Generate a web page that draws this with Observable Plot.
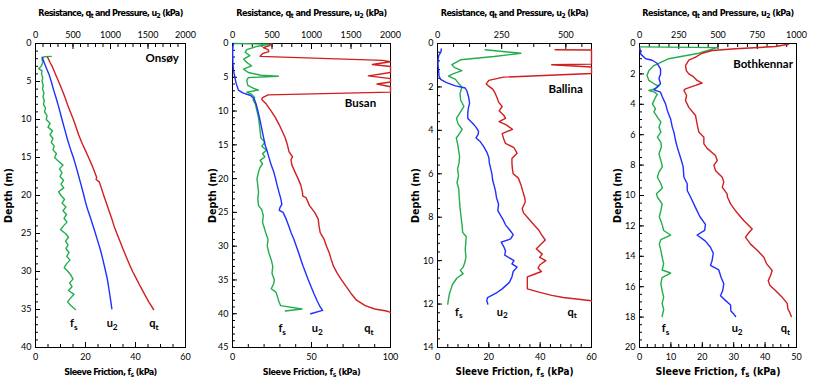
<!DOCTYPE html>
<html><head><meta charset="utf-8">
<script src="https://cdn.jsdelivr.net/npm/d3@7"></script>
<script src="https://cdn.jsdelivr.net/npm/@observablehq/plot@0.6"></script>
<style>
body{margin:0;background:#fff;}
#chart{display:flex;width:818px;height:385px;overflow:hidden;}
#chart svg{flex:none;}
</style></head><body><div id="chart"></div>
<script>
// ---------- DATA: [depth (m), value (kPa)] ----------
const onsoyFs = [[1.7,6.3],[1.75,3.4],[2.0,2.6],[2.5,2.9],[3.0,2.3],[3.3,1.3],[3.6,2.6],[4.0,2.4],[4.5,2.9],[5.0,2.6],[5.5,3.1],[6.0,2.8],[6.5,3.4],[7.0,3.0],[7.5,3.5],[8.0,3.2],[8.5,4.0],[9.0,3.6],[9.5,4.6],[10.0,4.3],[10.5,5.8],[11.0,5.0],[11.5,6.8],[12.0,5.8],[12.5,7.0],[13.0,6.3],[13.5,7.5],[14.0,7.0],[14.5,8.4],[15.0,7.6],[15.5,9.2],[16.0,11.0],[16.5,9.6],[17.0,10.6],[17.5,9.8],[18.0,11.2],[18.5,10.2],[19.0,11.3],[19.5,9.2],[20.0,10.2],[20.5,11.6],[21.0,10.6],[21.5,12.2],[22.0,11.0],[22.5,12.4],[23.0,11.4],[23.5,12.6],[24.0,11.2],[24.5,10.0],[25.0,12.0],[25.5,13.2],[26.0,12.0],[26.5,13.0],[27.0,12.2],[27.5,13.4],[28.0,12.5],[28.5,13.8],[29.0,12.4],[29.5,11.5],[30.0,13.0],[30.5,14.2],[31.0,15.0],[31.5,13.6],[32.0,14.6],[32.5,13.2],[33.0,15.4],[33.5,14.0],[34.0,12.8],[34.5,14.2],[35.0,16.0]];
const onsoyU2 = [[1.8,89],[3,135],[4,178],[5,210],[6.2,244],[7,270],[8.4,311],[10.1,356],[11.5,395],[12.8,431],[14,470],[15,505],[16,535],[17.2,569],[18.5,605],[19.8,640],[21,670],[21.9,698],[23,735],[24.6,787],[26,830],[27.2,867],[28.5,900],[29.9,933],[31,958],[32.5,982],[34,1005],[34.9,1018]];
const onsoyQt = [[1.8,160],[2.5,195],[3,222],[4,265],[5,308],[6,350],[7,390],[8,425],[9,465],[10,505],[11,540],[12,575],[13,615],[14,662],[15,708],[16,752],[17,792],[17.6,815],[17.9,808],[18.2,850],[19,877],[20,910],[21,945],[22,980],[23,1015],[24,1047],[25,1085],[26,1125],[27,1165],[28,1207],[29,1250],[30,1295],[31,1348],[32,1400],[33,1455],[34,1510],[35,1575]];

const busanFs = [[0,1],[0.1,24],[0.4,16],[0.9,9],[1.3,8],[1.8,11],[2.3,7],[2.8,9],[3.3,12],[3.8,7],[4.3,10],[4.7,18],[4.85,29],[5.05,10],[5.5,9],[6.2,9.7],[6.7,14],[6.9,16.5],[7.2,9],[7.5,12],[8.0,14],[8.3,13],[9.0,14.5],[10,15.5],[11,16.5],[12,17],[13,17.5],[14,18],[14.6,20.5],[15.2,18.6],[15.8,21.5],[16.3,19],[16.8,20.5],[17.3,17.5],[17.8,19],[18.4,17.3],[19,16.5],[20,15.5],[21,16],[22,16.5],[23,16],[24,16.5],[24.6,18.5],[25.5,19.5],[26.5,19],[27.2,20],[28,21],[29,22.5],[30,22],[31,23],[32,24.5],[33,25.5],[34,25],[35,26.5],[35.6,26],[36.3,24.5],[36.8,27.5],[37.5,28.5],[38.3,29.5],[38.8,30.5],[39.3,44],[39.6,33.4]];
const busanU2 = [[0,13],[0.5,5],[1,2],[2,3],[3,6],[4,13],[5,30],[5.6,40],[6.2,55],[6.9,75],[7.3,130],[7.7,230],[8.2,275],[9,300],[10,322],[11,342],[12,360],[13,377],[14,395],[15,412],[16,440],[17,465],[18,490],[19,522],[20,545],[21,565],[22,588],[23,612],[23.8,625],[24.3,600],[24.7,592],[25,640],[26,680],[27,712],[28,742],[29,778],[30,808],[31,838],[32,866],[33,895],[34,928],[35,960],[36,995],[37,1030],[38,1068],[39,1110],[39.5,1140],[40,990]];
const busanQt = [[0,500],[0.3,470],[0.6,390],[0.9,450],[1.2,460],[1.5,380],[1.9,350],[2.5,1900],[2.7,2000],[3.1,1770],[3.4,2000],[4.3,2000],[4.8,1720],[5.2,2000],[5.7,2000],[6.0,1830],[6.4,2000],[7.2,2000],[7.6,450],[8.0,380],[8.3,370],[9,430],[10,490],[11,545],[12,590],[13,630],[14,668],[15,695],[16,715],[16.8,760],[17.2,740],[18,752],[19,790],[20,830],[21,865],[22,885],[22.6,890],[22.8,930],[24,975],[25,1040],[26,1085],[27,1095],[28,1110],[29,1160],[30,1190],[31,1225],[32,1250],[33,1280],[34,1325],[35,1380],[36,1440],[37,1500],[38,1570],[38.8,1680],[39.3,1800],[39.6,1950],[39.8,2000]];

const ballinaFs = [[0.29,18.6],[0.45,32.5],[0.6,22],[0.75,9],[0.97,5.6],[1.1,6.5],[1.25,9.5],[1.4,6],[1.5,4.3],[1.65,7],[1.85,8.3],[2.0,9.5],[2.3,8.8],[2.6,9.0],[2.9,10.3],[3.2,8.7],[3.45,7.4],[3.7,8.0],[3.95,9.6],[4.2,8.3],[4.35,7.3],[4.6,7.8],[4.9,8.2],[5.2,8.6],[5.5,8.4],[5.8,7.8],[6.1,8.2],[6.4,7.6],[6.7,8.3],[7.0,8.4],[7.3,8.6],[7.6,8.8],[8.0,9.2],[8.4,9.6],[8.7,9.8],[8.9,11.2],[9.2,11.0],[9.5,10.8],[9.85,11.1],[10.1,10.6],[10.3,10.0],[10.45,8.9],[10.6,10.0],[10.8,7.6],[11.1,5.8],[11.3,5.3],[11.5,4.7],[11.75,4.3],[12.0,4.0]];
const ballinaU2 = [[0.25,15],[0.4,13],[0.55,5],[0.75,2],[1.0,2],[1.2,4],[1.5,6],[1.65,12],[1.8,35],[1.95,70],[2.05,108],[2.2,115],[2.5,122],[2.75,125],[3.0,120],[3.2,118],[3.45,118],[3.65,135],[3.85,150],[4.05,160],[4.2,158],[4.35,150],[4.5,165],[4.75,180],[5.0,192],[5.25,200],[5.5,202],[5.8,208],[6.0,212],[6.3,215],[6.6,222],[6.8,226],[7.1,230],[7.4,238],[7.7,235],[7.9,245],[8.1,255],[8.35,265],[8.6,282],[8.8,295],[9.0,285],[9.15,248],[9.35,258],[9.55,265],[9.75,262],[10.0,298],[10.15,290],[10.3,310],[10.5,295],[10.75,290],[11.0,280],[11.3,252],[11.5,228],[11.7,195],[11.85,192],[12.0,196]];
const ballinaQt = [[0.29,458],[0.3,600],[0.95,600],[0.98,445],[1.08,600],[1.38,600],[1.55,257],[1.7,200],[1.86,190],[1.95,198],[2.1,215],[2.3,225],[2.5,232],[2.7,238],[2.9,252],[3.1,240],[3.3,258],[3.45,265],[3.6,240],[3.75,268],[3.95,292],[4.15,252],[4.4,258],[4.6,265],[4.8,298],[5.05,310],[5.3,290],[5.5,290],[5.8,292],[6.0,295],[6.2,315],[6.5,325],[6.8,332],[7.1,340],[7.3,342],[7.6,330],[7.8,335],[8.0,350],[8.3,372],[8.6,395],[8.8,405],[9.05,420],[9.3,398],[9.45,385],[9.7,408],[9.85,398],[10.0,422],[10.2,398],[10.35,392],[10.5,405],[10.65,372],[10.75,350],[11.3,350],[11.45,395],[11.6,445],[11.7,490],[11.85,600]];

const bothFs = [[0.22,0.3],[0.27,24.7],[0.64,18.9],[1.0,9.3],[1.45,4.6],[1.78,3.0],[2.1,2.4],[2.43,3.0],[2.65,4.6],[2.8,6.2],[2.98,5.1],[3.09,3.0],[3.2,4.8],[3.35,5.7],[3.5,5.2],[3.97,4.1],[4.3,5.1],[4.5,4.6],[4.84,5.7],[5.17,6.8],[5.5,6.2],[5.83,6.8],[6.16,5.7],[6.5,6.8],[6.8,7.0],[7.26,6.2],[7.7,6.8],[8.1,7.3],[8.46,6.2],[8.8,5.7],[9.23,6.8],[9.5,7.3],[9.89,5.4],[10.1,5.7],[10.55,7.2],[11.0,6.8],[11.4,6.3],[11.9,7.2],[12.3,7.7],[12.6,9.9],[12.9,6.8],[13.2,6.3],[13.6,6.8],[14.06,7.2],[14.5,7.7],[14.9,7.2],[15.1,9.9],[15.4,7.2],[15.8,6.8],[16.25,7.2],[16.7,7.7],[17.1,7.2],[17.5,7.7],[17.96,7.2]];
const bothU2 = [[0.3,2],[0.7,8],[1.0,40],[1.1,81],[1.3,112],[1.67,134],[2.0,134],[2.3,124],[2.65,134],[3.05,92],[3.2,134],[3.5,145],[3.97,166],[4.4,177],[4.96,198],[5.5,209],[5.83,219],[6.4,230],[6.8,240],[7.5,261],[8.1,278],[8.8,283],[9.23,304],[9.67,304],[10.1,325],[10.8,357],[11.4,385],[11.9,420],[12.3,415],[12.6,367],[13.0,420],[13.4,452],[13.8,470],[14.3,462],[14.6,452],[14.9,505],[15.4,520],[15.8,537],[16.25,530],[16.6,516],[16.9,547],[17.2,580],[17.6,582],[17.8,601],[17.96,612]];
const bothQt = [[0.05,949],[0.2,866],[0.35,611],[0.46,463],[0.64,399],[0.9,357],[1.1,314],[1.45,293],[1.78,298],[2.0,314],[2.2,345],[2.43,367],[2.6,399],[2.76,357],[2.98,293],[3.09,283],[3.42,300],[3.75,293],[4.2,314],[4.74,357],[5.3,367],[5.83,378],[6.16,410],[6.6,410],[6.9,431],[7.37,484],[7.7,495],[8.0,474],[8.36,484],[8.8,527],[9.12,537],[9.45,527],[9.89,558],[10.1,560],[10.55,580],[11.0,611],[11.64,664],[12.2,718],[12.4,700],[12.74,675],[13.2,707],[13.6,750],[14.06,792],[14.5,810],[14.93,845],[15.26,835],[15.6,820],[15.9,830],[16.25,866],[16.7,909],[17.1,941],[17.45,945],[17.67,956],[17.96,967]];

// ---------- TICKS ----------
const onsoyDepthTicks = [0,5,10,15,20,25,30,35,40];
const onsoyTopTicks = [0,500,1000,1500,2000];
const onsoyFsTicks = [0,20,40,60];
const busanDepthTicks = [0,5,10,15,20,25,30,35,40,45];
const busanTopTicks = [0,500,1000,1500,2000];
const busanFsTicks = [0,50,100];
const ballinaDepthTicks = [0,2,4,6,8,10,12,14];
const ballinaTopTicks = [0,250,500];
const ballinaFsTicks = [0,20,40,60];
const bothDepthTicks = [0,2,4,6,8,10,12,14,16,18,20];
const bothTopTicks = [0,250,500,750,1000];
const bothFsTicks = [0,10,20,30,40,50];

const siteNames = ["Onsøy","Busan","Ballina","Bothkennar"];
const topTitle = "Resistance, q_t and Pressure, u_2 (kPa)";
const bottomTitle = "Sleeve Friction, f_s (kPa)";
const depthTitle = "Depth (m)";
const seriesLabels = ["f_s","u_2","q_t"];

const RED = "#d01f1f", BLUE = "#1f2fff", GREEN = "#22ae4c";
const TITLE_FONT = "'Liberation Sans Narrow', 'DejaVu Sans Condensed', Lato, sans-serif";

const panels = [
  {site: siteNames[0], fs: onsoyFs, u2: onsoyU2, qt: onsoyQt, width: 205, ml: 35, mr: 20,
   depthMax: 40, topMax: 2000, fsMax: 60, yTicks: onsoyDepthTicks, yMinor: 1,
   topTicks: onsoyTopTicks, topMinor: 100, fsTicks: onsoyFsTicks, fsMinor: 5,
   siteAt: [1689, 1.9], labAt: [[511, 36.9],[1022, 36.9],[1578, 36.9]],
   yOff: 31, topLen: 145, botLen: 93},
  {site: siteNames[1], fs: busanFs, u2: busanU2, qt: busanQt, width: 205, ml: 27, mr: 20,
   depthMax: 45, topMax: 2000, fsMax: 100, yTicks: busanDepthTicks, yMinor: 1,
   topTicks: busanTopTicks, topMinor: 125, fsTicks: busanFsTicks, fsMinor: 10,
   siteAt: [1620, 8.9], labAt: [[629, 42.2],[1072, 42.2],[1726, 42.2]],
   yOff: 24, topLen: 151, botLen: 98},
  {site: siteNames[2], fs: ballinaFs, u2: ballinaU2, qt: ballinaQt, width: 205, ml: 27, mr: 24,
   depthMax: 14, topMax: 600, fsMax: 60, yTicks: ballinaDepthTicks, yMinor: 0.4,
   topTicks: ballinaTopTicks, topMinor: 62.5, fsTicks: ballinaFsTicks, fsMinor: 4,
   siteAt: [499, 2.09], labAt: [[83, 12.38],[252, 12.38],[525, 12.38]],
   yOff: 26, topLen: 148, botLen: 118},
  {site: siteNames[3], fs: bothFs, u2: bothU2, qt: bothQt, width: 203, ml: 24, mr: 22,
   depthMax: 20, topMax: 1000, fsMax: 50, yTicks: bothDepthTicks, yMinor: 0.5,
   topTicks: bothTopTicks, topMinor: 62.5, fsTicks: bothFsTicks, fsMinor: 2.5,
   siteAt: [787, 1.34], labAt: [[166, 18.77],[622, 18.77],[930, 18.77]],
   yOff: 26, topLen: 152, botLen: 125}
];

const SVGNS = "http://www.w3.org/2000/svg";
function subscriptify(svg) {
  for (const el of Array.from(svg.querySelectorAll("text, tspan"))) {
    for (const node of Array.from(el.childNodes)) {
      if (node.nodeType === 3 && node.nodeValue.includes("_")) {
        const parts = node.nodeValue.split(/_(\w)/);
        const frag = document.createDocumentFragment();
        let shifted = false;
        parts.forEach((part, i) => {
          if (!part) return;
          const t = document.createElementNS(SVGNS, "tspan");
          t.textContent = part;
          if (i % 2 === 1) { t.setAttribute("dy", "2.5"); t.setAttribute("font-size", "75%"); shifted = true; }
          else if (shifted) { t.setAttribute("dy", "-2.5"); shifted = false; }
          frag.appendChild(t);
        });
        el.replaceChild(frag, node);
      }
    }
  }
}

// fit a title to a target width by font size (within limits), then letter spacing
function fitText(el, target) {
  let size = 10.5;
  el.setAttribute("font-size", size);
  let len = el.getComputedTextLength();
  if (!len) return;
  size = Math.max(9, Math.min(11.5, size * target / len));
  el.setAttribute("font-size", size);
  len = el.getComputedTextLength();
  const n = el.textContent.length;
  const ls = (target - len) / Math.max(1, n - 1);
  el.setAttribute("letter-spacing", ls.toFixed(3));
}

function range(a, b, s) { const out = []; for (let v = a; v <= b + 1e-9; v += s) out.push(+v.toFixed(6)); return out; }

function makePanel(p) {
  const k = p.topMax / p.fsMax;
  const fsData = p.fs.map(([d, v]) => ({depth: d, x: v * k}));
  const u2Data = p.u2.map(([d, v]) => ({depth: d, x: v}));
  const qtData = p.qt.map(([d, v]) => ({depth: d, x: v}));
  const labels = seriesLabels.map((t, i) => ({t, x: p.labAt[i][0], depth: p.labAt[i][1]}));
  const font = "Lato, 'Open Sans', sans-serif";
  const svg = Plot.plot({
    width: p.width, height: 385,
    marginTop: 43, marginBottom: 38, marginLeft: p.ml, marginRight: p.mr,
    style: {fontFamily: font, fontSize: "9px", color: "#000", background: "#fff", overflow: "visible"},
    x: {domain: [0, p.topMax]},
    y: {domain: [0, p.depthMax], reverse: true},
    marks: [
      Plot.frame({stroke: "#000", strokeWidth: 1}),
      // minor ticks
      Plot.axisY({ticks: range(0, p.depthMax, p.yMinor), tickSize: -3, tickFormat: () => "", label: null}),
      Plot.axisX({anchor: "top", ticks: range(0, p.topMax, p.topMinor), tickSize: -3, tickFormat: () => "", label: null}),
      Plot.axisX({anchor: "bottom", ticks: range(0, p.fsMax, p.fsMinor).map(v => v * k), tickSize: -3, tickFormat: () => "", label: null}),
      // major ticks + labels
      Plot.axisY({ticks: p.yTicks, tickFormat: d => String(d), tickSize: -5, tickPadding: 9, label: depthTitle, labelAnchor: "center", labelOffset: p.yOff, labelArrow: "none"}),
      Plot.axisX({anchor: "top", ticks: p.topTicks, tickFormat: d => String(d), tickSize: -5, tickPadding: 11, label: topTitle, labelAnchor: "center", labelOffset: 34, labelArrow: "none"}),
      Plot.axisX({anchor: "bottom", ticks: p.fsTicks.map(v => v * k), tickFormat: d => String(+(d / k).toFixed(4)), tickSize: -5, tickPadding: 11, label: bottomTitle, labelAnchor: "center", labelOffset: 27, labelArrow: "none"}),
      Plot.line(fsData, {x: "x", y: "depth", stroke: GREEN, strokeWidth: 1.4}),
      Plot.line(u2Data, {x: "x", y: "depth", stroke: BLUE, strokeWidth: 1.4}),
      Plot.line(qtData, {x: "x", y: "depth", stroke: RED, strokeWidth: 1.4}),
      Plot.text(labels, {x: "x", y: "depth", text: "t", fontSize: 11, fontWeight: "bold", fill: "#000", textAnchor: "middle"}),
      Plot.text([{t: p.site, x: p.siteAt[0], depth: p.siteAt[1]}], {x: "x", y: "depth", text: "t", fontSize: 11.5, fontWeight: "bold", fill: "#000", textAnchor: "middle"})
    ]
  });
  const titles = [];
  for (const el of svg.querySelectorAll("text")) {
    const s = el.textContent;
    if (s === topTitle) titles.push([el, p.topLen]);
    else if (s === bottomTitle) titles.push([el, p.botLen]);
    else if (s === depthTitle) titles.push([el, 55]);
  }
  for (const [el] of titles) { el.setAttribute("font-weight", "bold"); el.setAttribute("font-family", TITLE_FONT); }
  subscriptify(svg);
  return {svg, titles};
}

const chart = document.getElementById("chart");
for (const p of panels) {
  const {svg, titles} = makePanel(p);
  chart.appendChild(svg);
  for (const [el, len] of titles) fitText(el, len);
}
</script>
</body></html>
